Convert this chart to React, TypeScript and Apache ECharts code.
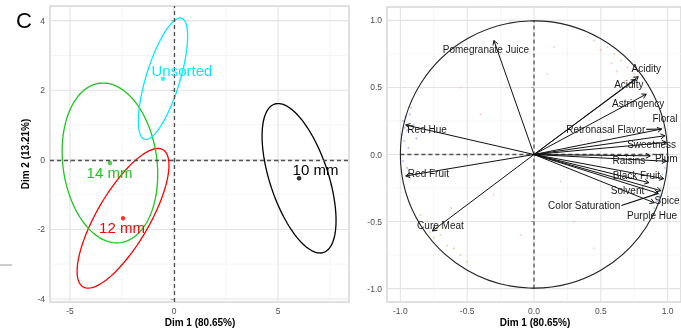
import React, { useEffect, useRef } from 'react';
import * as echarts from 'echarts';

// ---------- Left panel: individuals factor map (group ellipses) ----------
const groups = ['10 mm', '12 mm', '14 mm', 'Unsorted'];
const groupColors = ['#000000', '#FF0000', '#1CC81C', '#00F0F5'];
const centroidX = [6.01, -2.45, -3.08, -0.53];
const centroidY = [-0.53, -1.68, -0.09, 2.33];
const groupLabelX = [6.8, -2.5, -3.1, 0.38];
const groupLabelY = [-0.29, -1.95, -0.37, 2.56];
// conjugate semi-axes of the confidence ellipses (data units)
const ellipseUX = [1.18, 1.92, -0.51, 0.89];
const ellipseUY = [-2.13, 1.97, 2.29, 1.74];
const ellipseVX = [1.33, 1.09, 2.24, 0.78];
const ellipseVY = [0.27, -0.38, 0.18, -0.14];

const leftXTicks = [-5, 0, 5];
const leftXMinor = [-2.5, 2.5, 7.5];
const leftYTicks = [-4, -2, 0, 2, 4];
const leftYMinor = [-3, -1, 1, 3];

// ---------- Right panel: variables correlation circle ----------
const variables = [
  'Pomegranate Juice', 'Red Hue', 'Red Fruit', 'Cure Meat', 'Acidity', 'Acidity',
  'Astringency', 'Floral', 'Retronasal Flavor', 'Sweetness', 'Plum', 'Raisins',
  'Black Fruit', 'Solvent', 'Spice', 'Color Saturation', 'Purple Hue',
];
const dim1 = [-0.30, -0.96, -0.96, -0.76, 0.78, 0.76, 0.84, 0.98, 0.955, 0.99, 0.99, 0.87, 0.86, 0.95, 0.97, 0.93, 0.90];
const dim2 = [0.85, 0.22, -0.16, -0.57, 0.58, 0.56, 0.45, 0.14, 0.19, 0.09, -0.05, -0.01, -0.21, -0.27, -0.18, -0.29, -0.36];
const varLabelX = [-0.36, -0.80, -0.79, -0.70, 0.84, 0.71, 0.78, 0.98, 0.537, 0.88, 0.99, 0.71, 0.766, 0.70, 0.995, 0.376, 0.884];
const varLabelY = [0.78, 0.19, -0.14, -0.53, 0.64, 0.52, 0.38, 0.265, 0.188, 0.076, -0.03, -0.043, -0.155, -0.27, -0.34, -0.38, -0.453];
const linkedLabels = ['Retronasal Flavor', 'Color Saturation'];

// faint background observations (hand-read clusters)
const dotX = [-0.98, -0.97, -0.96, -0.95, -0.99, -0.93, -0.97, -0.9, -0.94, -0.98, -0.92, -0.88, -0.95,
  -0.78, -0.75, -0.7, -0.72, -0.8, -0.65, -0.6, -0.85, -0.68, -0.55, -0.62, -0.5,
  0.6, 0.65, 0.7, 0.55, 0.75, 0.5, 0.62, 0.68, 0.45, 0.58, 0.72, 0.4,
  0.98, 0.97, 0.99, 0.96, 0.95, 0.92, 0.9, 0.97, 0.94, 0.98, 0.93, 0.96, 0.88, 0.91,
  -0.2, 0.1, 0.3, -0.4, 0.2, -0.1, 0.45, -0.55, 0.35, 0.6, -0.3, 0.15];
const dotY = [0.25, 0.2, 0.28, 0.18, 0.15, 0.3, 0.1, 0.22, 0.05, -0.05, 0.35, 0.12, -0.1,
  -0.58, -0.62, -0.6, -0.55, -0.5, -0.68, -0.7, -0.45, -0.5, -0.75, -0.4, -0.8,
  0.75, 0.7, 0.65, 0.8, 0.6, 0.78, 0.62, 0.55, 0.85, 0.68, 0.5, 0.88,
  0.1, 0.05, -0.05, -0.15, -0.25, -0.35, -0.4, 0.2, -0.3, -0.1, -0.32, 0.0, -0.45, 0.3,
  0.5, 0.6, -0.5, 0.3, -0.2, -0.6, -0.7, 0.5, 0.1, -0.8, -0.3, 0.8];
const dotGroup = [0, 0, 0, 0, 0, 0, 0, 0, 0, 0, 0, 0, 0,
  1, 1, 1, 1, 1, 1, 1, 1, 1, 1, 1, 1,
  2, 2, 2, 2, 2, 2, 2, 2, 2, 2, 2, 2,
  3, 3, 3, 4, 4, 3, 4, 3, 4, 3, 4, 3, 4, 3,
  5, 5, 5, 5, 5, 5, 5, 5, 5, 5, 5, 5];
const dotColors = ['#6a78ff', '#b5c03a', '#f29a6a', '#c27cf2', '#3cc0c4', '#f2a0c0'];

const rightTicks = [-1, -0.5, 0, 0.5, 1];
const rightMinor = [-0.75, -0.25, 0.25, 0.75];

const LABEL_FONT = '10px "Liberation Sans", Arial, sans-serif';

function textWidth(t: string, font: string) {
  const c = document.createElement('canvas').getContext('2d');
  if (!c) return t.length * 5.5;
  c.font = font;
  return c.measureText(t).width;
}

function gridSeries(idx: number, xMaj: number[], xMin: number[], yMaj: number[], yMin: number[]) {
  const data: any[] = [];
  xMin.forEach((v) => data.push([v, 0, 0]));
  yMin.forEach((v) => data.push([v, 1, 0]));
  xMaj.forEach((v) => data.push([v, 0, 1]));
  yMaj.forEach((v) => data.push([v, 1, 1]));
  return {
    type: 'custom',
    xAxisIndex: idx,
    yAxisIndex: idx,
    silent: true,
    z: 0,
    data,
    renderItem: (params: any, api: any) => {
      const cs = params.coordSys;
      const v = api.value(0);
      const dir = api.value(1);
      const major = api.value(2) === 1;
      const style = { stroke: major ? '#e3e3e3' : '#f0f0f0', lineWidth: major ? 1.1 : 0.7 };
      if (dir === 0) {
        const x = api.coord([v, 0])[0];
        return { type: 'line', shape: { x1: x, y1: cs.y, x2: x, y2: cs.y + cs.height }, style };
      }
      const y = api.coord([0, v])[1];
      return { type: 'line', shape: { x1: cs.x, y1: y, x2: cs.x + cs.width, y2: y }, style };
    },
  };
}

function axisCommon(ticks: number[], fmt: (v: number) => string, isX: boolean) {
  return {
    type: 'value',
    splitLine: { show: false },
    axisLine: { show: false },
    axisTick: { show: true, customValues: ticks, length: 3, lineStyle: { color: '#a8a8a8', width: 1 } },
    axisLabel: {
      show: true,
      customValues: ticks,
      formatter: (v: number) => fmt(v),
      color: '#4d4d4d',
      fontSize: 8.5,
      fontFamily: '"Liberation Sans", Arial, sans-serif',
      margin: isX ? 4 : 5,
    },
  };
}

export default function App() {
  const ref = useRef<HTMLDivElement>(null);
  useEffect(() => {
    document.body.style.margin = '0';
    const chart = echarts.init(ref.current!, null, { renderer: 'svg' });

    const ellipseData = groups.map((g, i) => [centroidX[i], centroidY[i], ellipseUX[i], ellipseUY[i], ellipseVX[i], ellipseVY[i], i]);
    const varData = variables.map((v, i) => [dim1[i], dim2[i], varLabelX[i], varLabelY[i], i]);

    const option: any = {
      animation: false,
      grid: [
        { left: 50, top: 6, width: 299, height: 296, show: true, borderColor: '#d6d6d6', borderWidth: 1.5, backgroundColor: '#ffffff' },
        { left: 387, top: 7, width: 295.5, height: 295, show: true, borderColor: '#d6d6d6', borderWidth: 1.5, backgroundColor: '#ffffff' },
      ],
      xAxis: [
        { gridIndex: 0, min: -5.96, max: 8.41, ...axisCommon(leftXTicks, (v) => String(v), true) },
        { gridIndex: 1, min: -1.1, max: 1.1, ...axisCommon(rightTicks, (v) => v.toFixed(1), true) },
      ],
      yAxis: [
        { gridIndex: 0, min: -4.085, max: 4.42, ...axisCommon(leftYTicks, (v) => String(v), false) },
        { gridIndex: 1, min: -1.1, max: 1.1, ...axisCommon(rightTicks, (v) => v.toFixed(1), false) },
      ],
      graphic: [
        { type: 'text', left: 16, top: 9, style: { text: 'C', font: '22px "Liberation Sans", Arial, sans-serif', fill: '#000' } },
        {
          type: 'text', x: 200, y: 322,
          style: { text: 'Dim 1 (80.65%)', font: 'bold 10px "Liberation Sans", Arial, sans-serif', fill: '#000', align: 'center', verticalAlign: 'middle' },
        },
        {
          type: 'text', x: 535, y: 322,
          style: { text: 'Dim 1 (80.65%)', font: 'bold 10px "Liberation Sans", Arial, sans-serif', fill: '#000', align: 'center', verticalAlign: 'middle' },
        },
        {
          type: 'text', x: 25, y: 154, rotation: Math.PI / 2,
          style: { text: 'Dim 2 (13.21%)', font: 'bold 10px "Liberation Sans", Arial, sans-serif', fill: '#000', align: 'center', verticalAlign: 'middle' },
        },
        { type: 'line', shape: { x1: 0, y1: 265, x2: 12, y2: 265 }, style: { stroke: '#9a9a9a', lineWidth: 1 } },
      ],
      series: [
        gridSeries(0, leftXTicks, leftXMinor, leftYTicks, leftYMinor),
        gridSeries(1, rightTicks, rightMinor, rightTicks, rightMinor),
        // reference dashed lines (left)
        {
          type: 'scatter', xAxisIndex: 0, yAxisIndex: 0, data: [], silent: true,
          markLine: {
            silent: true, symbol: 'none', label: { show: false },
            lineStyle: { color: '#505050', width: 1.3, type: [4, 3] },
            data: [{ xAxis: 0 }, { yAxis: 0 }],
          },
        },
        // ellipses
        {
          type: 'custom', xAxisIndex: 0, yAxisIndex: 0, silent: true, z: 3,
          data: ellipseData,
          renderItem: (params: any, api: any) => {
            const cx = api.value(0), cy = api.value(1), ux = api.value(2), uy = api.value(3), vx = api.value(4), vy = api.value(5);
            const gi = api.value(6);
            const pts: number[][] = [];
            for (let k = 0; k <= 120; k++) {
              const t = (k / 120) * Math.PI * 2;
              pts.push(api.coord([cx + ux * Math.cos(t) + vx * Math.sin(t), cy + uy * Math.cos(t) + vy * Math.sin(t)]));
            }
            return { type: 'polyline', shape: { points: pts }, style: { stroke: groupColors[gi], lineWidth: 1.3, fill: 'none' } };
          },
        },
        // centroids
        {
          type: 'scatter', xAxisIndex: 0, yAxisIndex: 0, symbolSize: 4.5, z: 4, silent: true,
          data: groups.map((g, i) => ({ value: [centroidX[i], centroidY[i]], itemStyle: { color: groupColors[i] } })),
        },
        // group labels
        {
          type: 'custom', xAxisIndex: 0, yAxisIndex: 0, silent: true, z: 5,
          data: groups.map((g, i) => [groupLabelX[i], groupLabelY[i], i]),
          renderItem: (params: any, api: any) => {
            const p = api.coord([api.value(0), api.value(1)]);
            const gi = api.value(2);
            return {
              type: 'text', x: p[0], y: p[1],
              style: { text: groups[gi], fill: groupColors[gi], font: '15px "Liberation Sans", Arial, sans-serif', align: 'center', verticalAlign: 'middle' },
            };
          },
        },
        // right: faint observations
        {
          type: 'scatter', xAxisIndex: 1, yAxisIndex: 1, symbolSize: 2, z: 1, silent: true,
          data: dotX.map((x, i) => ({ value: [x, dotY[i]], itemStyle: { color: dotColors[dotGroup[i]], opacity: 0.45 } })),
        },
        // right: dashed reference lines + unit circle
        {
          type: 'custom', xAxisIndex: 1, yAxisIndex: 1, silent: true, z: 2,
          data: [[-1, 0, 1, 0], [0, -1, 0, 1]],
          renderItem: (params: any, api: any) => {
            const a = api.coord([api.value(0), api.value(1)]);
            const b = api.coord([api.value(2), api.value(3)]);
            return { type: 'line', shape: { x1: a[0], y1: a[1], x2: b[0], y2: b[1] }, style: { stroke: '#505050', lineWidth: 1.3, lineDash: [4, 3] } };
          },
        },
        {
          type: 'custom', xAxisIndex: 1, yAxisIndex: 1, silent: true, z: 3,
          data: [[0, 0, 1]],
          renderItem: (params: any, api: any) => {
            const c = api.coord([api.value(0), api.value(1)]);
            const r = api.size([api.value(2), 0])[0];
            return { type: 'circle', shape: { cx: c[0], cy: c[1], r }, style: { stroke: '#222222', lineWidth: 1.1, fill: 'none' } };
          },
        },
        // arrows
        {
          type: 'custom', xAxisIndex: 1, yAxisIndex: 1, silent: true, z: 4,
          data: varData,
          renderItem: (params: any, api: any) => {
            const o = api.coord([0, 0]);
            const p = api.coord([api.value(0), api.value(1)]);
            const ang = Math.atan2(p[1] - o[1], p[0] - o[0]);
            const L = 5, a = Math.PI / 6;
            const h1 = [p[0] - L * Math.cos(ang - a), p[1] - L * Math.sin(ang - a)];
            const h2 = [p[0] - L * Math.cos(ang + a), p[1] - L * Math.sin(ang + a)];
            return {
              type: 'group',
              children: [
                { type: 'line', shape: { x1: o[0], y1: o[1], x2: p[0], y2: p[1] }, style: { stroke: '#111', lineWidth: 1 } },
                { type: 'polyline', shape: { points: [h1, p, h2] }, style: { stroke: '#111', lineWidth: 1, fill: 'none' } },
              ],
            };
          },
        },
        // variable labels (+ repel segments)
        {
          type: 'custom', xAxisIndex: 1, yAxisIndex: 1, silent: true, z: 5,
          data: varData,
          renderItem: (params: any, api: any) => {
            const vi = api.value(4);
            const name = variables[vi];
            const lp = api.coord([api.value(2), api.value(3)]);
            const children: any[] = [
              { type: 'text', x: lp[0], y: lp[1], style: { text: name, fill: '#1a1a1a', font: LABEL_FONT, align: 'center', verticalAlign: 'middle' } },
            ];
            if (linkedLabels.indexOf(name) >= 0) {
              const tip = api.coord([api.value(0), api.value(1)]);
              const w = textWidth(name, LABEL_FONT);
              children.push({ type: 'line', shape: { x1: lp[0] + w / 2 + 1, y1: lp[1], x2: tip[0], y2: tip[1] }, style: { stroke: '#111', lineWidth: 1.2 } });
            }
            return { type: 'group', children };
          },
        },
      ],
    };
    chart.setOption(option);
    return () => chart.dispose();
  }, []);
  return <div ref={ref} style={{ position: 'fixed', left: 0, top: 0, width: 681, height: 328 }} />;
}
